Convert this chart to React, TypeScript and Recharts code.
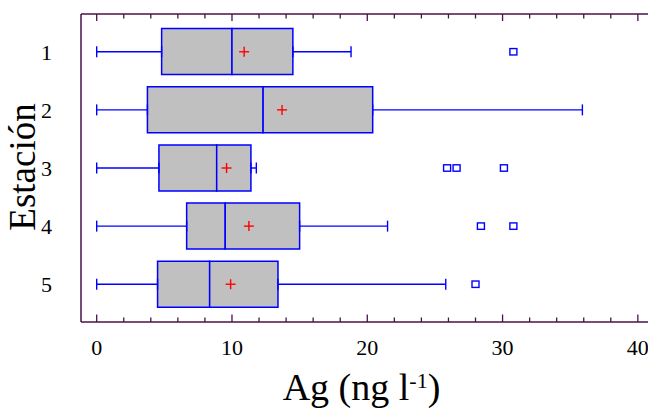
import React from 'react';
import { ComposedChart, Bar, Scatter, ErrorBar, XAxis, YAxis } from 'recharts';

// Ag concentration per station (ng l-1)
const stations = ['1', '2', '3', '4', '5'];
const minValues = [0, 0, 0, 0, 0];
const q1Values = [4.8, 3.75, 4.6, 6.65, 4.5];
const medianValues = [10.0, 12.3, 8.87, 9.5, 8.35];
const q3Values = [14.5, 20.4, 11.4, 15.0, 13.4];
const maxValues = [18.8, 35.9, 11.8, 21.5, 25.8];
const meanValues = [10.9, 13.7, 9.6, 11.25, 9.9];
const outlierValues = [[30.8], [], [25.9, 26.6, 30.1], [28.4, 30.8], [28.0]];

const xTicks = [0, 2, 4, 6, 8, 10, 12, 14, 16, 18, 20, 22, 24, 26, 28, 30, 32, 34, 36, 38, 40];
const xLabelTicks = [0, 10, 20, 30, 40];
const yTicks = [1, 2, 3, 4, 5];

const FONT = '"Liberation Serif", "Times New Roman", serif';
const AXIS = '#4a1048';
const BLUE = '#0000ff';

// stacked pieces: invisible offset up to Q1, then Q1-median and median-Q3
const boxRows = stations.map((s, i) => ({
  station: s,
  base: q1Values[i],
  lower: medianValues[i] - q1Values[i],
  upper: q3Values[i] - medianValues[i],
}));

// whiskers hang off the box edges
const whiskerRows = stations.flatMap((s, i) => [
  { x: q1Values[i], y: Number(s), err: [q1Values[i] - minValues[i], 0] },
  { x: q3Values[i], y: Number(s), err: [0, maxValues[i] - q3Values[i]] },
]);

const meanRows = stations.map((s, i) => ({ x: meanValues[i], y: Number(s) }));

const outlierRows = stations.flatMap((s, i) =>
  outlierValues[i].map((v) => ({ x: v, y: Number(s) }))
);

const BottomTick = (props: any) => {
  const { x, y, payload } = props;
  const major = xLabelTicks.includes(payload.value);
  return (
    <g>
      <line x1={x} x2={x} y1={y} y2={y - (major ? 7.5 : 4.5)} stroke={AXIS} strokeWidth={1.3} />
      {major && (
        <text x={x} y={y + 33} textAnchor="middle" fontFamily={FONT} fontSize={22} fill="#000">
          {payload.value}
        </text>
      )}
    </g>
  );
};

const TopTick = (props: any) => {
  const { x, y, payload } = props;
  const major = xLabelTicks.includes(payload.value);
  return <line x1={x} x2={x} y1={y} y2={y + (major ? 7 : 4.5)} stroke={AXIS} strokeWidth={1.3} />;
};

const MeanMark = (props: any) => {
  const { cx, cy } = props;
  return (
    <g stroke="#ff0000" strokeWidth={1.4}>
      <line x1={cx - 5} x2={cx + 5} y1={cy} y2={cy} />
      <line x1={cx} x2={cx} y1={cy - 5} y2={cy + 5} />
    </g>
  );
};

const OutlierMark = (props: any) => {
  const { cx, cy } = props;
  return <rect x={cx - 3.5} y={cy - 3.2} width={7} height={6.4} fill="none" stroke={BLUE} strokeWidth={1.4} />;
};

const NoMark = () => <g />;

const App = () => {
  return (
    <div style={{ position: 'absolute', left: 0, top: 0, width: 648, height: 408, overflow: 'hidden', background: '#fff' }}>
      <ComposedChart
        width={648}
        height={408}
        data={boxRows}
        layout="vertical"
        margin={{ top: 0, right: 0, bottom: 0, left: 0 }}
      >
        <XAxis
          xAxisId="main"
          type="number"
          dataKey="x"
          orientation="bottom"
          domain={[-1.16, 40.75]}
          allowDataOverflow
          ticks={xTicks}
          interval={0}
          height={86}
          tickSize={0}
          tickMargin={0}
          tickLine={false}
          axisLine={{ stroke: AXIS, strokeWidth: 1.5 }}
          tick={<BottomTick />}
          label={{
            content: (p: any) => {
              const vb = p.viewBox;
              return (
                <text x={vb.x + vb.width / 2 - 3} y={vb.y + 78} textAnchor="middle" fontFamily={FONT} fontSize={38} fill="#000">
                  Ag (ng l
                  <tspan fontSize={22} dy={-12}>-1</tspan>
                  <tspan dy={12}>)</tspan>
                </text>
              );
            },
          }}
        />
        <XAxis
          xAxisId="top"
          type="number"
          orientation="top"
          domain={[-1.16, 40.75]}
          allowDataOverflow
          ticks={xTicks}
          interval={0}
          height={14}
          tickSize={0}
          tickMargin={0}
          tickLine={false}
          axisLine={{ stroke: AXIS, strokeWidth: 1.5 }}
          tick={<TopTick />}
        />
        <YAxis
          yAxisId="num"
          type="number"
          dataKey="y"
          domain={[0.35, 5.65]}
          allowDataOverflow
          ticks={yTicks}
          interval={0}
          width={81}
          tickLine={false}
          tickMargin={23}
          axisLine={{ stroke: AXIS, strokeWidth: 1.5 }}
          tick={{ fontFamily: FONT, fontSize: 22, fill: '#000' }}
          label={{
            content: () => (
              <text
                x={0}
                y={0}
                transform="translate(35, 167) rotate(-90)"
                textAnchor="middle"
                fontFamily={FONT}
                fontSize={37}
                fill="#000"
              >
                Estación
              </text>
            ),
          }}
        />
        <YAxis
          yAxisId="cat"
          type="category"
          dataKey="station"
          hide
          width={0}
          padding={{ top: 8.6, bottom: 8.6 }}
        />

        <Bar xAxisId="main" yAxisId="cat" dataKey="base" stackId="box" barSize={46} fill="none" stroke="none" isAnimationActive={false} />
        <Bar xAxisId="main" yAxisId="cat" dataKey="lower" stackId="box" barSize={46} fill="#c0c0c0" stroke={BLUE} strokeWidth={1.5} isAnimationActive={false} />
        <Bar xAxisId="main" yAxisId="cat" dataKey="upper" stackId="box" barSize={46} fill="#c0c0c0" stroke={BLUE} strokeWidth={1.5} isAnimationActive={false} />

        <Scatter xAxisId="main" yAxisId="num" data={whiskerRows} shape={<NoMark />} isAnimationActive={false}>
          <ErrorBar dataKey="err" direction="x" width={5.5} stroke={BLUE} strokeWidth={1.4} />
        </Scatter>
        <Scatter xAxisId="main" yAxisId="num" data={outlierRows} shape={<OutlierMark />} isAnimationActive={false} />
        <Scatter xAxisId="main" yAxisId="num" data={meanRows} shape={<MeanMark />} isAnimationActive={false} />
      </ComposedChart>
    </div>
  );
};

export default App;
